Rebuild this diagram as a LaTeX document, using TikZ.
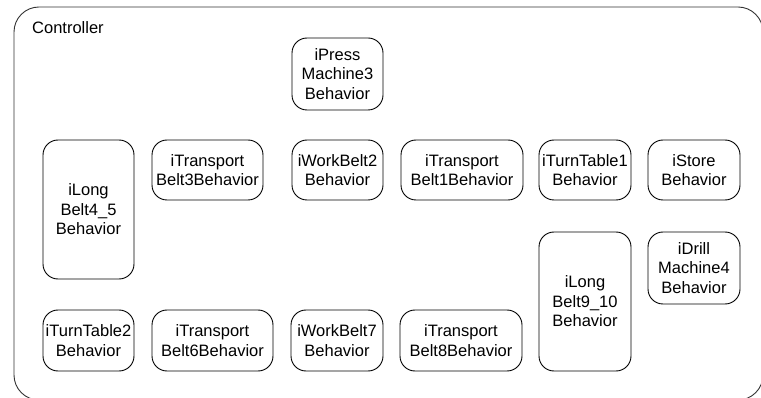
\documentclass[tikz,border=0pt]{standalone}
\usepackage{fontspec}
\setmainfont{Liberation Sans}
\begin{document}
\begin{tikzpicture}[x=1pt,y=1pt,
  beh/.style={draw=black, line width=0.9pt, rounded corners=15pt, inner sep=0pt, align=center,
    font=\fontsize{16.5}{19.5}\selectfont},
  outer/.style={draw=black!80, line width=0.9pt, rounded corners=25pt}]
\useasboundingbox (0,0) rectangle (761,-398);
\begin{scope}
\clip (0,0) rectangle (761,-398);
\draw[outer] (14,-7) rectangle (763,-400);
\end{scope}
\node[anchor=base west, inner sep=0pt, font=\fontsize{16.5}{19.5}\selectfont] (ctl) at (32,-34) {Controller};
\node[beh, minimum width=91pt, minimum height=72pt] (press) at (337.5,-74) {iPress\\Machine3\\Behavior};
\node[beh, minimum width=91pt, minimum height=139pt] (long45) at (88.5,-209.5) {iLong\\Belt4\_5\\Behavior};
\node[beh, minimum width=111pt, minimum height=60pt] (tb3) at (207.5,-170) {iTransport\\Belt3Behavior};
\node[beh, minimum width=91pt, minimum height=60pt] (wb2) at (337.5,-170) {iWorkBelt2\\Behavior};
\node[beh, minimum width=122pt, minimum height=60pt] (tb1) at (462,-170) {iTransport\\Belt1Behavior};
\node[beh, minimum width=92pt, minimum height=60pt] (tt1) at (585,-170) {iTurnTable1\\Behavior};
\node[beh, minimum width=92pt, minimum height=60pt] (store) at (694,-170) {iStore\\Behavior};
\node[beh, minimum width=92pt, minimum height=72pt] (drill) at (694,-268) {iDrill\\Machine4\\Behavior};
\node[beh, minimum width=92pt, minimum height=139pt] (long910) at (585,-301.5) {iLong\\Belt9\_10\\Behavior};
\node[beh, minimum width=91pt, minimum height=61pt] (tt2) at (88.5,-340.5) {iTurnTable2\\Behavior};
\node[beh, minimum width=121pt, minimum height=61pt] (tb6) at (212.5,-340.5) {iTransport\\Belt6Behavior};
\node[beh, minimum width=92pt, minimum height=61pt] (wb7) at (337,-340.5) {iWorkBelt7\\Behavior};
\node[beh, minimum width=122pt, minimum height=61pt] (tb8) at (461,-340.5) {iTransport\\Belt8Behavior};
\end{tikzpicture}
\end{document}
